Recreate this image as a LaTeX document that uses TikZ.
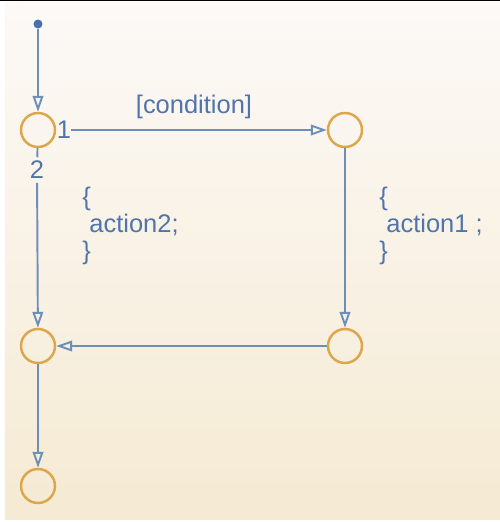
\documentclass[tikz,border=0pt]{standalone}
\usepackage{fontspec}
\setmainfont{Liberation Sans}
\usetikzlibrary{arrows.meta}
\definecolor{wire}{RGB}{110,142,186}
\definecolor{junc}{RGB}{220,166,74}
\definecolor{lbl}{RGB}{80,117,170}
\definecolor{dot}{RGB}{72,112,172}
\definecolor{bgtop}{RGB}{252,249,247}
\definecolor{bgmid}{RGB}{247,244,236}
\definecolor{bgbot}{RGB}{245,234,211}

\begin{document}
\begin{tikzpicture}[x=0.02cm,y=-0.02cm,
  junction/.style={circle,draw=junc,line width=1.4pt,inner sep=0pt,minimum size=0.68cm},
  txt/.style={text=lbl,inner sep=0pt,font=\fontsize{14.5}{15.4}\selectfont},
  arr/.style={draw=wire,line width=1.1pt,-{Triangle[open,length=9pt,width=6pt]}}]
\useasboundingbox (0,0) rectangle (500,522);
\shade[top color=bgtop,middle color=bgmid,bottom color=bgbot] (5,2) rectangle (500,519);
\draw[black,line width=0.8pt] (0,0.7) -- (500,0.7);

\node[circle,fill=dot,inner sep=0pt,minimum size=0.18cm] (S) at (38,24) {};
\node[junction] (A) at (38,130) {};
\node[junction] (B) at (345,130) {};
\node[junction] (C) at (38,346) {};
\node[junction] (D) at (345,346) {};
\node[junction] (E) at (38,486) {};
\node[txt] (N1) at (64,130) {1};
\node[txt,inner sep=2pt] (N2) at (37,170) {2};
\node[txt,align=left,anchor=west] (L) at (82,226) {\{\\\ action2;\\\}};
\node[txt,align=left,anchor=west] (R) at (379,226) {\{\\\ action1 ;\\\}};

\draw[wire,line width=1.1pt] (A) -- (N2);
\path[arr]
(S) edge (A)
(N1) edge node[txt,above=6pt,pos=0.48] {[condition]} (B)
(B) edge (D)
(N2) edge (C)
(D) edge (C)
(C) edge (E);
\end{tikzpicture}
\end{document}
